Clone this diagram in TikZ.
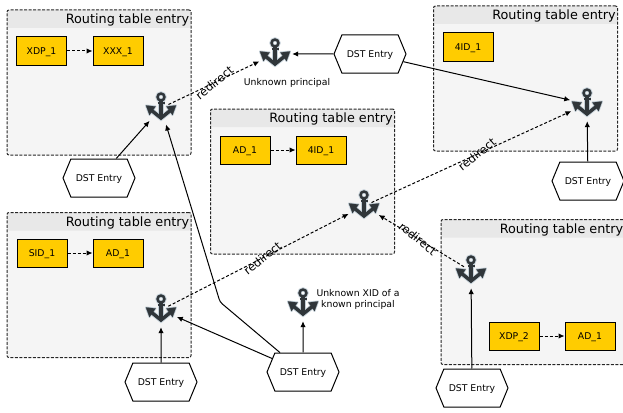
\documentclass[tikz,border=0pt]{standalone}
\usepackage{fontspec}
\setmainfont{DejaVu Sans}
\usetikzlibrary{arrows.meta}
\usetikzlibrary{shapes.symbols}
\definecolor{panelgray}{HTML}{F5F5F5}
\definecolor{headgray}{HTML}{E8E8E8}
\definecolor{xidyellow}{HTML}{FFCC00}
\definecolor{anchordark}{HTML}{30363A}
\definecolor{anchorhalo}{HTML}{C4D0D8}
\newcommand{\anchorglyph}[2]{
  \draw [draw=#1, line width=#2+2.4pt] (0,-11) circle (3.5pt);
  \draw [draw=#1, line width=#2+3.6pt] (0,-7) -- (0,10);
  \draw [draw=#1, line width=#2+1.5pt] (-3.5,-5) -- (3.5,-5);
  \draw [draw=#1, line width=#2+3.4pt, miter limit=4] (-10,2) -- (0,10) -- (10,2);
  \filldraw [draw=#1, fill=#1, line width=#2+0.2pt, line join=round] (-15,-2.5) -- (-5.5,-1.5) -- (-11.5,7) -- cycle;
  \filldraw [draw=#1, fill=#1, line width=#2+0.2pt, line join=round] (15,-2.5) -- (5.5,-1.5) -- (11.5,7) -- cycle;
}
\tikzset{
  panelbox/.style={draw=black!85, line width=1pt, dash pattern=on 3pt off 1.5pt, rounded corners=2pt, fill=panelgray, minimum width=184pt, minimum height=145pt, inner sep=0pt,
    path picture={\fill [headgray] (path picture bounding box.north west) rectangle ([yshift=-18pt]path picture bounding box.north east);}},
  paneltitle/.style={anchor=north east, font=\fontsize{12.8}{14}\selectfont, inner sep=0pt, xshift=-2pt, yshift=-4.5pt},
  xidbox/.style={draw=black, line width=1pt, fill=xidyellow, minimum width=50pt, minimum height=28pt, inner sep=0pt, text height=9pt, text depth=2pt, font=\fontsize{9.3}{11}\selectfont},
  dstentry/.style={draw=black, line width=1pt, fill=white, signal, signal to=west and east, signal pointer angle=135, minimum width=72pt, minimum height=38pt, inner sep=0pt, text height=9pt, text depth=2pt, font=\fontsize{9.3}{11}\selectfont},
  anchoricon/.style={circle, minimum size=34pt, inner sep=0pt,
    path picture={\begin{scope}[shift={(path picture bounding box.center)}]
      \anchorglyph{anchorhalo}{1.8pt}
      \anchorglyph{anchordark}{0pt}
    \end{scope}}},
  note/.style={align=center, inner sep=0pt, font=\fontsize{9.3}{11}\selectfont},
  link/.style={black, line width=1pt, -{Latex[length=6pt,width=5.5pt]}},
  dashlink/.style={link, dash pattern=on 3pt off 2pt},
  redirectlink/.style={dashlink, shorten <=-9pt},
  redirectlabel/.style={inner sep=0pt, font=\fontsize{11.5}{13}\selectfont}
}
\begin{document}
\begin{tikzpicture}[x=1pt,y=-1pt]
\useasboundingbox (0,0) rectangle (623,412);
% routing table entries
\node [panelbox] (panelnw) at (99,82.5) {};
\node [paneltitle] (titlenw) at (panelnw.north east) {Routing table entry};
\node [panelbox] (panelmid) at (302.5,181.5) {};
\node [paneltitle] (titlemid) at (panelmid.north east) {Routing table entry};
\node [panelbox] (panelne) at (525.5,78.5) {};
\node [paneltitle] (titlene) at (panelne.north east) {Routing table entry};
\node [panelbox] (panelsw) at (99,285) {};
\node [paneltitle] (titlesw) at (panelsw.north east) {Routing table entry};
\node [panelbox] (panelse) at (533,292) {};
\node [paneltitle] (titlese) at (panelse.north east) {Routing table entry};
% address boxes
\node [xidbox] (xdpa) at (41.5,51) {XDP\_1};
\node [xidbox] (xxxa) at (118,51) {XXX\_1};
\node [xidbox] (foura) at (468,47) {4ID\_1};
\node [xidbox] (adm) at (245,150) {AD\_1};
\node [xidbox] (fourm) at (321,150) {4ID\_1};
\node [xidbox] (sida) at (42,253) {SID\_1};
\node [xidbox] (adb) at (118,253) {AD\_1};
\node [xidbox] (xdpb) at (514,336) {XDP\_2};
\node [xidbox] (adc) at (590,336) {AD\_1};
\draw [dashlink] (xdpa) -- (xxxa);
\draw [dashlink] (adm) -- (fourm);
\draw [dashlink] (sida) -- (adb);
\draw [dashlink] (xdpb) -- (adc);
% anchors
\node [anchoricon] (ancnw) at (161,108) {};
\node [anchoricon] (ancnote) at (275,54) {};
\node [anchoricon] (ancne) at (587,104) {};
\node [anchoricon] (ancmid) at (364,206) {};
\node [anchoricon] (ancsw) at (161,310) {};
\node [anchoricon] (ancse) at (471,271) {};
\node [anchoricon] (ancxid) at (303,304) {};
\node [note] (unkprin) at (287,83) {Unknown principal};
\node [note] (unkxid) at (358,299) {Unknown XID of a\\known principal};
% DST entries
\node [dstentry] (dstnw) at (99,178) {DST Entry};
\node [dstentry] (dsttop) at (370,54) {DST Entry};
\node [dstentry] (dstne) at (588,181) {DST Entry};
\node [dstentry] (dstsw) at (161,382) {DST Entry};
\node [dstentry] (dstmid) at (303,372) {DST Entry};
\node [dstentry] (dstse) at (472,388) {DST Entry};
\coordinate (bendnw) at (220,302);
\draw [link] (dstnw) -- (ancnw);
\draw [link, rounded corners=3pt] (dstmid) -- (bendnw) -- (ancnw);
\draw [link] (dstmid) -- (ancsw);
\draw [link] (dstmid) -- (ancxid);
\draw [link] (dstsw) -- (ancsw);
\draw [link] (dstse) -- (ancse);
\draw [link] (dsttop) -- (ancnote);
\draw [link] (dsttop) -- (ancne);
\draw [link] (dstne) -- (ancne);
% redirects
\draw [redirectlink] (ancnw) -- node [redirectlabel, pos=0.456, rotate=39] {redirect} (ancnote);
\draw [redirectlink] (ancsw) -- node [redirectlabel, pos=0.5, rotate=39] {redirect} (ancmid);
\draw [redirectlink] (ancmid) -- node [redirectlabel, pos=0.507, rotate=39] {redirect} (ancne);
\draw [redirectlink] (ancse) -- node [redirectlabel, pos=0.495, rotate=-39] {redirect} (ancmid);
\end{tikzpicture}
\end{document}
